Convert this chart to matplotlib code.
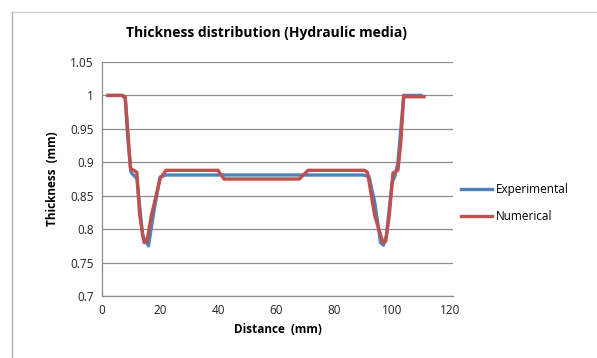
import matplotlib.pyplot as plt
from matplotlib.lines import Line2D
from matplotlib.ticker import FuncFormatter

# thickness along the part, hydraulic media forming
exp_x = [2, 7, 8, 9, 10, 11, 12, 14, 16, 18, 20, 22, 30, 40, 50, 60, 70, 80, 90, 92,
         94, 96, 97, 98, 100, 101, 102, 104, 105, 110]
exp_y = [1.0, 1.0, 0.995, 0.93, 0.885, 0.88, 0.876, 0.79, 0.775, 0.83, 0.878, 0.881,
         0.881, 0.881, 0.881, 0.881, 0.881, 0.881, 0.881, 0.879,
         0.84, 0.78, 0.776, 0.79, 0.87, 0.88, 0.9, 1.0, 1.0, 1.0]

num_x = [2, 7, 8, 9, 9.8, 11, 12, 13, 14.5, 15.5, 17, 20, 22, 40, 42, 68, 71, 90.5,
         91.5, 94, 96.8, 97.8, 99, 100.3, 102, 103, 104, 105, 111]
num_y = [1.0, 1.0, 0.998, 0.94, 0.89, 0.888, 0.885, 0.82, 0.78, 0.782, 0.82, 0.875,
         0.888, 0.888, 0.875, 0.875, 0.888, 0.888, 0.885, 0.82, 0.78, 0.782, 0.82,
         0.884, 0.888, 0.93, 1.0, 0.998, 0.998]

plt.rcParams['font.family'] = ['Open Sans', 'DejaVu Sans']

fig = plt.figure(figsize=(5.97, 3.58), dpi=100)
ax = fig.add_axes([0.1709, 0.1732, 0.588, 0.6536])

ax.plot(exp_x, exp_y, color='#4F81BD', lw=2.4, solid_joinstyle='round', label='Experimental')
ax.plot(num_x, num_y, color='#C0504D', lw=2.4, solid_joinstyle='round', label='Numerical')

ax.set_xlim(0, 121)
ax.set_ylim(0.7, 1.05)
ax.set_xticks(range(0, 121, 20))
ax.set_yticks([0.7, 0.75, 0.8, 0.85, 0.9, 0.95, 1.0, 1.05])
ax.yaxis.set_major_formatter(FuncFormatter(lambda v, p: '%g' % round(v, 2)))
ax.tick_params(length=0, labelsize=8.5, colors='#222222', pad=6)
ax.grid(axis='y', color='#8c8c8c', lw=0.9)
ax.set_axisbelow(True)
for s in ['top', 'right']:
    ax.spines[s].set_visible(False)
for s in ['left', 'bottom']:
    ax.spines[s].set_color('#8c8c8c')
    ax.spines[s].set_linewidth(0.9)

ax.set_xlabel('Distance  (mm)', fontsize=8.5, fontweight='bold', labelpad=4)
ax.set_ylabel('Thickness  (mm)', fontsize=8.5, fontweight='bold', labelpad=8)
fig.text(266 / 597, 1 - 33 / 358, 'Thickness distribution (Hydraulic media)',
         ha='center', va='center', fontsize=10, fontweight='bold')

ax.legend(loc='center left', bbox_to_anchor=(1.0, 0.397), frameon=False,
          fontsize=8.5, handlelength=2.6, handletextpad=0.3, labelspacing=1.2,
          borderaxespad=0.3)

# chart area frame (top and left edges)
fig.add_artist(Line2D([12 / 597, 1], [1 - 12 / 358] * 2, color='#d0d0d0', lw=1))
fig.add_artist(Line2D([12 / 597] * 2, [0, 1 - 12 / 358], color='#b0b0b0', lw=1))

fig.savefig('out.png', dpi=100)
